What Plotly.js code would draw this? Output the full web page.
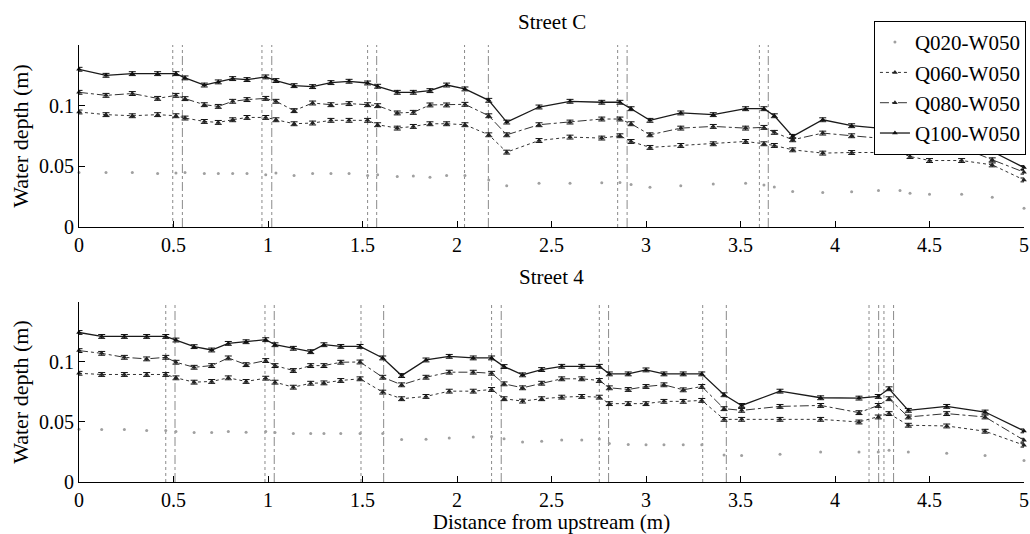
<!DOCTYPE html>
<html>
<head>
<meta charset="utf-8">
<script src="https://cdn.plot.ly/plotly-3.0.1.min.js"></script>
<style>
html,body{margin:0;padding:0;background:#fff;}
#chart{width:1030px;height:534px;}
</style>
</head>
<body>
<div id="chart"></div>
<script>
// ---------- Data ----------
const seriesNames = ["Q020-W050", "Q060-W050", "Q080-W050", "Q100-W050"];

// Street C
const xStreetC = [0, 0.143, 0.282, 0.416, 0.513, 0.561, 0.663, 0.737, 0.813, 0.889,
  0.988, 1.042, 1.138, 1.236, 1.333, 1.429, 1.527, 1.58, 1.684, 1.769,
  1.857, 1.945, 2.042, 2.168, 2.263, 2.434, 2.598, 2.766, 2.862, 2.921,
  3.021, 3.184, 3.356, 3.527, 3.624, 3.679, 3.776, 3.935, 4.088, 4.23,
  4.344, 4.397, 4.5, 4.67, 4.832, 5.0];
const streetC_Q020 = [0.045, 0.045, 0.045, 0.044, 0.0445, 0.045, 0.044, 0.044, 0.044, 0.044,
  0.043, 0.0445, 0.0424, 0.044, 0.044, 0.044, 0.0424, 0.043, 0.0416, 0.042,
  0.041, 0.0424, 0.0424, 0.0388, 0.0341, 0.036, 0.036, 0.0364, 0.0366, 0.035,
  0.0328, 0.034, 0.0355, 0.036, 0.0347, 0.033, 0.0292, 0.0284, 0.029, 0.030,
  0.030, 0.0278, 0.027, 0.027, 0.0245, 0.0155];
const streetC_Q060 = [0.0948, 0.0926, 0.0917, 0.0926, 0.0917, 0.0898, 0.087, 0.0862, 0.0884, 0.0903,
  0.0903, 0.0884, 0.0851, 0.0857, 0.0879, 0.0879, 0.0879, 0.0843, 0.0815, 0.0829,
  0.0851, 0.0851, 0.0843, 0.076, 0.0617, 0.0713, 0.0741, 0.0733, 0.0752, 0.0705,
  0.0656, 0.0672, 0.0686, 0.0705, 0.0686, 0.0672, 0.0636, 0.0609, 0.0614, 0.0614,
  0.0614, 0.0581, 0.0548, 0.0548, 0.0512, 0.0388];
const streetC_Q080 = [0.111, 0.1085, 0.11, 0.106, 0.1085, 0.1058, 0.1008, 0.0994, 0.1036, 0.105,
  0.106, 0.1036, 0.0959, 0.1022, 0.1008, 0.1017, 0.1008, 0.1, 0.094, 0.0945,
  0.1006, 0.1006, 0.1011, 0.0917, 0.076, 0.0843, 0.0865, 0.089, 0.089, 0.0851,
  0.076, 0.0815, 0.0829, 0.0815, 0.0821, 0.078, 0.0719, 0.0774, 0.0752, 0.0733,
  0.0741, 0.0719, 0.0622, 0.0656, 0.0554, 0.0452];
const streetC_Q100 = [0.130, 0.125, 0.1264, 0.1264, 0.1264, 0.1229, 0.117, 0.1196, 0.1223, 0.1215,
  0.1237, 0.1207, 0.1165, 0.1157, 0.119, 0.1201, 0.1187, 0.116, 0.111, 0.111,
  0.1124, 0.117, 0.1138, 0.1044, 0.0865, 0.0989, 0.1036, 0.1028, 0.1028, 0.0975,
  0.0879, 0.094, 0.0926, 0.0975, 0.0975, 0.0917, 0.0747, 0.0884, 0.0835, 0.0815,
  0.0774, 0.0747, 0.0672, 0.0719, 0.0622, 0.049];
const junctionsStreetC = [0.496, 0.547, 0.968, 1.02, 1.527, 1.575, 2.04, 2.166, 2.85, 2.90, 3.60, 3.647];

// Street 4
const xStreet4 = [0, 0.12, 0.24, 0.358, 0.459, 0.513, 0.609, 0.702, 0.79, 0.884,
  0.988, 1.037, 1.134, 1.226, 1.296, 1.385, 1.487, 1.607, 1.707, 1.836,
  1.959, 2.086, 2.183, 2.249, 2.347, 2.448, 2.554, 2.66, 2.753, 2.806,
  2.906, 3.0, 3.095, 3.197, 3.295, 3.413, 3.506, 3.709, 3.924, 4.127,
  4.229, 4.286, 4.388, 4.591, 4.794, 5.0];
const street4_Q020 = [0.044, 0.0437, 0.0437, 0.043, 0.043, 0.042, 0.0412, 0.0412, 0.042, 0.0415,
  0.042, 0.0412, 0.0404, 0.0404, 0.0404, 0.0404, 0.0404, 0.0404, 0.0354, 0.0357,
  0.0367, 0.0376, 0.038, 0.036, 0.0334, 0.034, 0.035, 0.035, 0.0359, 0.032,
  0.0312, 0.031, 0.031, 0.031, 0.031, 0.0224, 0.0221, 0.0232, 0.0251, 0.025,
  0.0251, 0.0265, 0.025, 0.024, 0.022, 0.018];
const street4_Q060 = [0.0906, 0.0896, 0.0896, 0.0896, 0.0896, 0.0868, 0.0832, 0.0838, 0.0868, 0.0838,
  0.0865, 0.0832, 0.079, 0.0823, 0.0826, 0.0846, 0.086, 0.0749, 0.0694, 0.0713,
  0.0757, 0.0757, 0.0771, 0.0694, 0.0674, 0.0694, 0.0707, 0.0713, 0.0707, 0.0653,
  0.0653, 0.0653, 0.0672, 0.0672, 0.068, 0.0522, 0.0522, 0.0522, 0.0522, 0.05,
  0.0542, 0.057, 0.0473, 0.0467, 0.0423, 0.0307];
const street4_Q080 = [0.1095, 0.1072, 0.1039, 0.1026, 0.1039, 0.0998, 0.0956, 0.097, 0.1034, 0.0978,
  0.1012, 0.097, 0.0929, 0.097, 0.097, 0.0998, 0.1, 0.0873, 0.081, 0.0873,
  0.0915, 0.0915, 0.0906, 0.0818, 0.0785, 0.0823, 0.086, 0.086, 0.0846, 0.0785,
  0.0771, 0.0796, 0.081, 0.0768, 0.0796, 0.0611, 0.0597, 0.063, 0.0638, 0.0578,
  0.0638, 0.0694, 0.0542, 0.057, 0.0542, 0.0348];
const street4_Q100 = [0.1246, 0.1213, 0.1213, 0.1213, 0.1213, 0.1183, 0.1128, 0.11, 0.1155, 0.1169,
  0.1186, 0.1144, 0.1114, 0.1086, 0.1144, 0.113, 0.113, 0.1034, 0.0887, 0.1017,
  0.1047, 0.1034, 0.1034, 0.0962, 0.0893, 0.0937, 0.0964, 0.0964, 0.0964, 0.0901,
  0.0901, 0.0934, 0.0901, 0.0901, 0.0901, 0.0727, 0.0638, 0.0757, 0.0702, 0.0699,
  0.0713, 0.0777, 0.0597, 0.063, 0.0583, 0.0426];
const junctionsStreet4 = [0.459, 0.508, 0.984, 1.033, 1.492, 1.612, 2.183, 2.234, 2.753, 2.802,
  3.30, 3.425, 4.18, 4.231, 4.259, 4.31];

const subplotTitles = ["Street C", "Street 4"];
const xTickVals = [0, 0.5, 1, 1.5, 2, 2.5, 3, 3.5, 4, 4.5, 5];
const xTickText = ["0", "0.5", "1", "1.5", "2", "2.5", "3", "3.5", "4", "4.5", "5"];
const yTickVals = [0, 0.05, 0.1];
const yTickText = ["0", "0.05", "0.1"];

// ---------- Styles ----------
const FONT = '"Liberation Serif", "Times New Roman", Times, serif';
const styles = [
  {mode: "markers", marker: {size: 3, color: "#a0a0a0"}, err: false},
  {mode: "lines+markers", line: {color: "#333", width: 1, dash: "dot"}, marker: {size: 5, symbol: "triangle-up", color: "#222"}, err: true},
  {mode: "lines+markers", line: {color: "#333", width: 1, dash: "dashdot"}, marker: {size: 5, symbol: "triangle-up", color: "#222"}, err: true},
  {mode: "lines+markers", line: {color: "#1a1a1a", width: 1.3, dash: "solid"}, marker: {size: 5, symbol: "triangle-up", color: "#111"}, err: true}
];

function makeTraces(x, ys, xa, ya, showLegend) {
  return ys.map((y, i) => {
    const s = styles[i];
    const t = {
      type: "scatter", x: x, y: y, name: seriesNames[i], mode: s.mode,
      xaxis: xa, yaxis: ya, legendgroup: seriesNames[i], showlegend: showLegend,
      marker: s.marker, cliponaxis: false, hoverinfo: "x+y+name"
    };
    if (s.line) t.line = s.line;
    if (s.err) t.error_y = {type: "constant", value: 0.0016, thickness: 1, width: 3.5, color: "#111"};
    return t;
  });
}

const traces = [
  ...makeTraces(xStreetC, [streetC_Q020, streetC_Q060, streetC_Q080, streetC_Q100], "x", "y", true),
  ...makeTraces(xStreet4, [street4_Q020, street4_Q060, street4_Q080, street4_Q100], "x2", "y2", false)
];

function junctionShapes(list, xref, yref) {
  return list.map((p, i) => ({
    type: "line", xref: xref, yref: yref + " domain", x0: p, x1: p, y0: 0, y1: 1,
    line: {color: "#8a8a8a", width: 1, dash: i % 2 === 0 ? "dot" : "dashdot"}, layer: "below"
  }));
}

const axisBase = {
  showline: true, linecolor: "#000", linewidth: 1, mirror: false,
  ticks: "inside", ticklen: 6, tickcolor: "#000", tickwidth: 1,
  showgrid: false, zeroline: false,
  tickfont: {family: FONT, size: 20, color: "#000"}
};

const layout = {
  width: 1030, height: 534,
  margin: {l: 79, r: 5, t: 45, b: 52},
  paper_bgcolor: "#fff", plot_bgcolor: "#fff",
  font: {family: FONT, color: "#000"},
  showlegend: true,
  legend: {
    x: 1.001, xanchor: "right", y: 1.055, yanchor: "top",
    bgcolor: "#fff", bordercolor: "#000", borderwidth: 1,
    font: {family: FONT, size: 21, color: "#000"},
    tracegroupgap: 0, itemwidth: 30
  },
  xaxis: Object.assign({}, axisBase, {domain: [0, 1], anchor: "y", range: [0, 5], tickvals: xTickVals, ticktext: xTickText}),
  yaxis: Object.assign({}, axisBase, {domain: [0.5835, 1], anchor: "x", range: [0, 0.15], tickvals: yTickVals, ticktext: yTickText,
    title: {text: "Water depth (m)", font: {family: FONT, size: 22}, standoff: 4}}),
  xaxis2: Object.assign({}, axisBase, {domain: [0, 1], anchor: "y2", range: [0, 5], tickvals: xTickVals, ticktext: xTickText,
    title: {text: "Distance from upstream (m)", font: {family: FONT, size: 21}, standoff: 3}}),
  yaxis2: Object.assign({}, axisBase, {domain: [0, 0.4119], anchor: "x2", range: [0, 0.15], tickvals: yTickVals, ticktext: yTickText,
    title: {text: "Water depth (m)", font: {family: FONT, size: 22}, standoff: 4}}),
  shapes: [...junctionShapes(junctionsStreetC, "x", "y"), ...junctionShapes(junctionsStreet4, "x2", "y2")],
  annotations: [
    {text: subplotTitles[0], xref: "paper", yref: "paper", x: 0.5, y: 1.0526, xanchor: "center", yanchor: "middle", showarrow: false, font: {family: FONT, size: 21}},
    {text: subplotTitles[1], xref: "paper", yref: "paper", x: 0.5, y: 0.469, xanchor: "center", yanchor: "middle", showarrow: false, font: {family: FONT, size: 21}}
  ]
};

Plotly.newPlot("chart", traces, layout, {displayModeBar: false, staticPlot: true});
</script>
</body>
</html>
